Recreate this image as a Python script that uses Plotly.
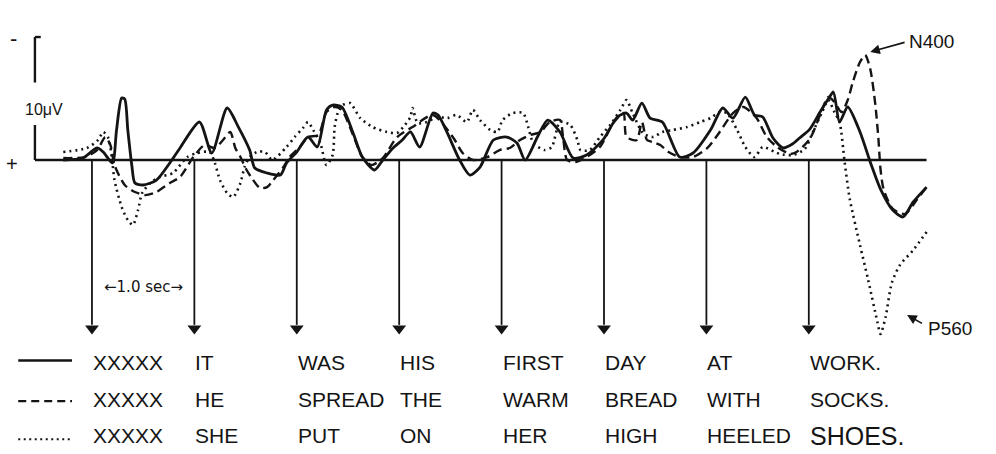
import plotly.graph_objects as go

# ---------------- data ----------------
onsets = [0, 1, 2, 3, 4, 5, 6, 7]  # word onsets (s)
words_solid = ["XXXXX", "IT", "WAS", "HIS", "FIRST", "DAY", "AT", "WORK."]
words_dashed = ["XXXXX", "HE", "SPREAD", "THE", "WARM", "BREAD", "WITH", "SOCKS."]
words_dotted = ["XXXXX", "SHE", "PUT", "ON", "HER", "HIGH", "HEELED", "SHOES."]

# time (s) and amplitude (uV, negative = up)
t_solid = [-0.28, -0.09, 0.05, 0.11, 0.20, 0.24, 0.29, 0.32, 0.35, 0.39, 0.42, 0.50, 0.63, 0.76, 0.86,
           1.05, 1.17, 1.32, 1.43, 1.54, 1.59, 1.71, 1.84, 1.90, 2.00, 2.11, 2.20, 2.29, 2.35, 2.44,
           2.55, 2.64, 2.76, 2.84, 2.94, 3.03, 3.11, 3.20, 3.33, 3.38, 3.47, 3.59, 3.69, 3.79, 3.92,
           4.05, 4.15, 4.23, 4.35, 4.45, 4.57, 4.70, 4.83, 4.99, 5.13, 5.22, 5.28, 5.37, 5.45, 5.57,
           5.74, 5.87, 6.04, 6.16, 6.26, 6.38, 6.47, 6.55, 6.65, 6.75, 6.84, 6.91, 7.01, 7.11, 7.19,
           7.24, 7.30, 7.38, 7.50, 7.60, 7.70, 7.82, 7.92, 8.02, 8.15]
v_solid = [0.0, -0.16, -0.98, -0.65, 0.24, -2.44, -5.04, -4.96, -2.44, 0.49, 1.87, 2.03, 1.63, 0.24, -0.98,
           -3.09, -0.57, -4.23, -2.68, -0.81, 0.65, 1.06, 1.22, 0.24, -0.65, -1.87, -1.06, -4.07, -4.47, -4.31,
           -2.20, -0.24, 0.81, 0.0, -0.98, -1.63, -2.28, -1.06, -3.82, -3.66, -2.20, 0.0, 1.22, 0.57, -1.63,
           -1.87, -1.38, 0.0, -1.87, -3.25, -2.28, -0.16, -0.41, -1.63, -3.50, -3.82, -3.25, -4.63, -3.41, -3.09,
           -0.24, -0.57, -2.44, -4.23, -3.41, -5.12, -3.66, -3.50, -1.79, -0.98, -1.30, -1.79, -2.52, -3.90, -4.96,
           -5.53, -3.09, -4.31, -2.28, 0.16, 2.36, 4.07, 4.63, 3.41, 2.20]

t_dashed = [-0.28, -0.07, 0.05, 0.13, 0.18, 0.22, 0.32, 0.42, 0.52, 0.63, 0.76, 0.86, 0.99, 1.10, 1.20,
            1.28, 1.35, 1.40, 1.45, 1.51, 1.56, 1.64, 1.71, 1.77, 1.87, 1.93, 2.03, 2.11, 2.21, 2.29,
            2.37, 2.44, 2.55, 2.64, 2.73, 2.84, 2.98, 3.13, 3.33, 3.53, 3.62, 3.72, 3.86, 3.98, 4.08,
            4.18, 4.28, 4.38, 4.47, 4.57, 4.60, 4.64, 4.72, 4.83, 4.96, 5.09, 5.19, 5.22, 5.32, 5.37,
            5.42, 5.48, 5.55, 5.63, 5.74, 5.87, 6.01, 6.13, 6.26, 6.36, 6.49, 6.59, 6.69, 6.82, 6.88,
            7.01, 7.11, 7.19, 7.25, 7.32, 7.38, 7.43, 7.50, 7.55, 7.60, 7.65, 7.68, 7.70, 7.73, 7.82,
            7.94, 8.06, 8.15]
v_dashed = [-0.16, -0.24, -0.81, -1.87, -1.22, 0.41, 2.03, 2.60, 2.85, 2.60, 1.87, 1.38, -0.24, -1.22, -0.98,
            -1.63, -2.28, -0.98, -0.24, 0.81, 1.46, 2.28, 2.20, 1.63, 0.57, -0.24, -1.06, -1.87, -2.03, -3.90,
            -4.31, -4.07, -2.03, -0.24, 0.41, -0.16, -1.87, -2.68, -3.66, -1.79, -0.57, 0.0, -0.24, -0.81, -0.98,
            -1.63, -2.03, -2.28, -3.09, -3.25, -1.87, 0.0, 0.16, -0.24, -1.06, -3.00, -3.82, -1.87, -1.63, -3.09,
            -1.63, -1.46, -1.22, -0.65, -0.24, -0.24, -0.98, -2.28, -3.82, -4.31, -3.41, -1.87, -1.06, -0.49, -0.65,
            -1.71, -3.66, -5.12, -4.72, -3.90, -4.88, -6.34, -7.97, -8.54, -7.40, -4.47, -1.71, 0.73, 2.36, 3.98,
            4.39, 3.17, 2.20]

t_dotted = [-0.28, -0.05, 0.06, 0.11, 0.16, 0.20, 0.22, 0.29, 0.35, 0.40, 0.45, 0.49, 0.57, 0.66, 0.79,
            0.93, 1.03, 1.15, 1.20, 1.25, 1.32, 1.38, 1.45, 1.49, 1.54, 1.61, 1.69, 1.76, 1.90, 1.98,
            2.06, 2.11, 2.16, 2.23, 2.29, 2.35, 2.37, 2.40, 2.45, 2.52, 2.62, 2.74, 2.88, 2.98, 3.04,
            3.11, 3.13, 3.18, 3.27, 3.37, 3.47, 3.56, 3.66, 3.72, 3.79, 3.89, 3.96, 4.01, 4.11, 4.21,
            4.26, 4.31, 4.42, 4.49, 4.57, 4.67, 4.74, 4.77, 4.86, 4.96, 5.06, 5.16, 5.22, 5.28, 5.38,
            5.48, 5.57, 5.67, 5.81, 5.94, 6.04, 6.13, 6.20, 6.30, 6.38, 6.47, 6.55, 6.67, 6.72, 6.84,
            6.96, 7.04, 7.13, 7.19, 7.25, 7.30, 7.35, 7.40, 7.50, 7.58, 7.67, 7.70, 7.75, 7.81, 7.89,
            8.02, 8.15]
v_dotted = [-0.65, -0.98, -1.63, -2.28, -1.79, 0.24, 1.63, 3.82, 4.88, 5.28, 4.07, 2.68, 1.87, 1.38, 1.06,
            -0.24, -0.57, -0.65, 0.24, 1.63, 2.68, 3.01, 1.87, 0.57, -0.24, -0.65, -0.65, 0.0, -1.06, -1.87,
            -2.60, -3.09, -2.44, -1.38, 0.41, -0.41, -2.68, -3.82, -4.47, -4.63, -3.41, -2.68, -2.28, -2.20, -2.68,
            -3.50, -4.23, -3.01, -3.09, -3.50, -3.41, -3.66, -3.09, -4.07, -3.25, -2.44, -2.28, -3.25, -3.82, -3.82,
            -2.68, -1.38, -0.81, -1.06, -3.09, -2.85, -1.63, -0.81, -0.81, -1.87, -2.85, -4.07, -4.88, -3.82, -2.20,
            -1.87, -2.28, -2.44, -2.68, -3.09, -3.41, -3.90, -3.82, -2.44, -1.06, -0.24, -1.06, -0.65, -0.49, -0.41,
            -0.89, -2.28, -3.90, -4.88, -3.90, -3.09, 0.16, 3.17, 6.91, 9.76, 13.17, 14.15, 12.76, 10.00, 8.54,
            7.32, 5.85]

scale_uv = 10  # calibration bar (uV)

# ---------------- figure ----------------
INK = "#141414"
fig = go.Figure()

# baseline
fig.add_trace(go.Scatter(x=[-0.557, 8.15], y=[0, 0], mode="lines",
                         line=dict(color=INK, width=2.5), hoverinfo="skip"))
# calibration bar (broken by label)
fig.add_trace(go.Scatter(x=[-0.557, -0.557, None, -0.557, -0.557, None, -0.557, -0.50],
                         y=[-scale_uv, -6.3, None, -2.85, 0, None, -scale_uv, -scale_uv],
                         mode="lines", line=dict(color=INK, width=2.4), hoverinfo="skip"))

# stimulus arrows
sx, sy = [], []
for o in onsets:
    sx += [o, o, None]
    sy += [0, 13.4, None]
fig.add_trace(go.Scatter(x=sx, y=sy, mode="lines", line=dict(color=INK, width=1.8), hoverinfo="skip"))
fig.add_trace(go.Scatter(x=onsets, y=[13.7] * len(onsets), mode="markers",
                         marker=dict(symbol="triangle-down", size=12, color=INK), hoverinfo="skip"))

# ERP traces
fig.add_trace(go.Scatter(x=t_dotted, y=v_dotted, mode="lines",
                         line=dict(color=INK, width=2.6, dash="2px,4px", shape="spline", smoothing=0.7)))
fig.add_trace(go.Scatter(x=t_dashed, y=v_dashed, mode="lines",
                         line=dict(color=INK, width=2.4, dash="9px,5px", shape="spline", smoothing=0.7)))
fig.add_trace(go.Scatter(x=t_solid, y=v_solid, mode="lines",
                         line=dict(color=INK, width=2.8, shape="spline", smoothing=0.7)))

# legend keys
fig.add_trace(go.Scatter(x=[-0.72, -0.195], y=[16.3, 16.3], mode="lines",
                         line=dict(color=INK, width=2.6), hoverinfo="skip"))
fig.add_trace(go.Scatter(x=[-0.72, -0.195], y=[19.6, 19.6], mode="lines",
                         line=dict(color=INK, width=2.4, dash="8px,5px"), hoverinfo="skip"))
fig.add_trace(go.Scatter(x=[-0.72, -0.195], y=[22.7, 22.7], mode="lines",
                         line=dict(color=INK, width=2.2, dash="2px,3.5px"), hoverinfo="skip"))

FONT = "Liberation Sans, Arial, sans-serif"
ann = []
rows = [(words_solid, 16.5), (words_dashed, 19.5), (words_dotted, 22.4)]
for words, yv in rows:
    for o, w in zip(onsets, words):
        size = 25 if w == "SHOES." else 21
        ann.append(dict(x=o - 0.01, y=yv, xref="x", yref="y", text=w, showarrow=False,
                        xanchor="left", yanchor="middle", font=dict(family=FONT, size=size, color=INK)))

# scale labels
ann.append(dict(x=-0.47, y=-4.1, text="10μV", showarrow=False, xanchor="center", yanchor="middle",
                font=dict(family=FONT, size=16, color=INK)))
ann.append(dict(x=-0.77, y=-9.9, text="-", showarrow=False, xanchor="center", yanchor="middle",
                font=dict(family=FONT, size=22, color=INK)))
ann.append(dict(x=-0.78, y=0.3, text="+", showarrow=False, xanchor="center", yanchor="middle",
                font=dict(family=FONT, size=20, color=INK)))
ann.append(dict(x=0.50, y=10.3, text="←1.0 sec→", showarrow=False, xanchor="center", yanchor="middle",
                font=dict(family="DejaVu Sans, sans-serif", size=15, color=INK)))

# component labels
ann.append(dict(x=7.60, y=-8.78, ax=7.95, ay=-9.6, xref="x", yref="y", axref="x", ayref="y",
                text="", showarrow=True, arrowhead=2, arrowsize=1.2, arrowwidth=1.6, arrowcolor=INK))
ann.append(dict(x=7.96, y=-9.67, text="N400", showarrow=False, xanchor="left", yanchor="middle",
                font=dict(family=FONT, size=19, color=INK)))
ann.append(dict(x=7.96, y=12.6, ax=8.12, ay=13.35, xref="x", yref="y", axref="x", ayref="y",
                text="", showarrow=True, arrowhead=2, arrowsize=1.2, arrowwidth=1.6, arrowcolor=INK))
ann.append(dict(x=8.14, y=13.7, text="P560", showarrow=False, xanchor="left", yanchor="middle",
                font=dict(family=FONT, size=19, color=INK)))

fig.update_layout(
    width=996, height=454,
    margin=dict(l=0, r=0, t=0, b=0),
    paper_bgcolor="white", plot_bgcolor="white",
    showlegend=False,
    annotations=ann,
    xaxis=dict(range=[-0.898, 8.828], visible=False, showgrid=False, zeroline=False, fixedrange=True),
    yaxis=dict(range=[23.90, -13.01], visible=False, showgrid=False, zeroline=False, fixedrange=True),
)

fig.write_html("out.html")
